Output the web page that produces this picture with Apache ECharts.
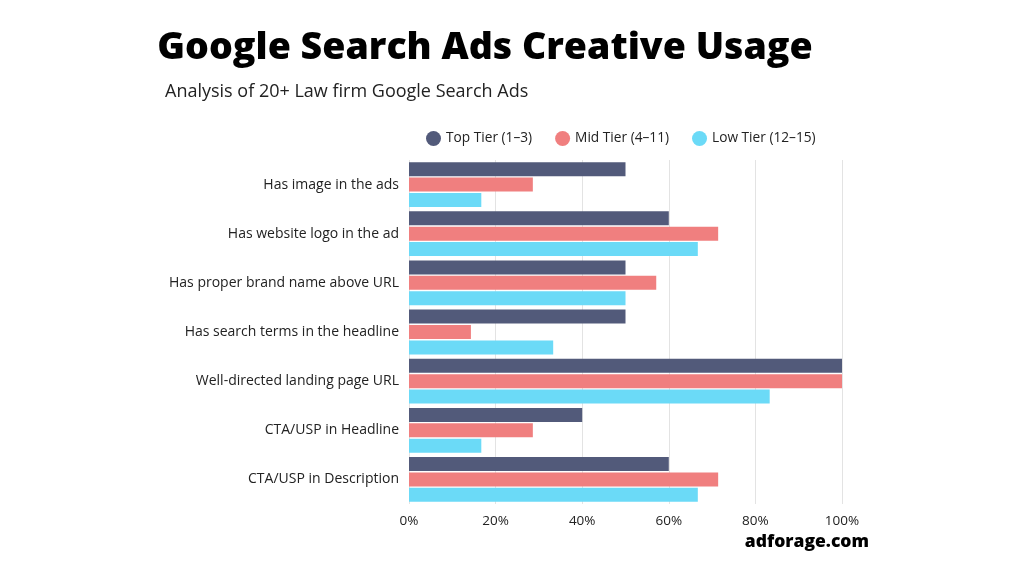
<!DOCTYPE html>
<html><head><meta charset="utf-8">
<script src="https://cdn.jsdelivr.net/npm/echarts@6/dist/echarts.min.js"></script>
<style>html,body{margin:0;padding:0;background:#fff}#c{width:1024px;height:576px}</style>
</head><body><div id="c"></div>
<script>
const categories = ["Has image in the ads","Has website logo in the ad","Has proper brand name above URL","Has search terms in the headline","Well-directed landing page URL","CTA/USP in Headline","CTA/USP in Description"];
const seriesNames = ["Top Tier (1–3)","Mid Tier (4–11)","Low Tier (12–15)"];
const topTier = [50,60,50,50,100,40,60];
const midTier = [28.6,71.4,57.1,14.3,100,28.6,71.4];
const lowTier = [16.7,66.7,50,33.3,83.3,16.7,66.7];
const colors = ["#525a7a","#f07f7f","#6bdaf7"];
const F = "'Open Sans', sans-serif";
const chart = echarts.init(document.getElementById('c'));
const data = [topTier, midTier, lowTier];
chart.setOption({
  animation:false,
  title:[
    {text:"Google Search Ads Creative Usage",left:480,top:24,textAlign:'center',textStyle:{fontFamily:F,fontSize:37.5,fontWeight:800,color:'#000'}},
    {text:"Analysis of 20+ Law firm Google Search Ads",left:160,top:78,textStyle:{fontFamily:F,fontSize:18,fontWeight:400,color:'#222'}},
    {text:"adforage.com",right:150,top:528,textStyle:{fontFamily:F,fontSize:17.5,fontWeight:800,color:'#000'}}
  ],
  legend:{top:126,left:421,itemGap:23,icon:'circle',itemWidth:15,itemHeight:15,textStyle:{fontFamily:F,fontSize:13.7,color:'#222'},data:seriesNames},
  grid:{left:409,right:182,top:160,bottom:72,containLabel:false},
  xAxis:{type:'value',min:0,max:100,interval:20,
    axisLabel:{formatter:'{value}%',fontFamily:F,fontSize:13.5,color:'#222',margin:10},
    splitLine:{lineStyle:{color:'#e3e3e3'}},axisLine:{show:false},axisTick:{show:false}},
  yAxis:{type:'category',data:categories,inverse:true,
    axisLabel:{fontFamily:F,fontSize:14,color:'#222',margin:10},
    axisLine:{show:false},axisTick:{show:false}},
  series:data.map((d,i)=>({name:seriesNames[i],type:'bar',data:d,barWidth:14,barGap:'10%',itemStyle:{color:colors[i]}}))
});
</script></body></html>
